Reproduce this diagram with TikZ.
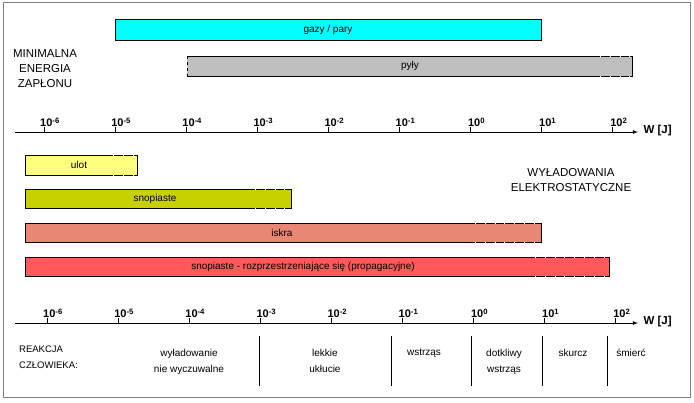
\documentclass[tikz,border=0pt]{standalone}
\usepackage{fontspec}
\setmainfont{Liberation Sans}
\begin{document}
\begin{tikzpicture}[x=1pt,y=-1pt,
  bar/.style={draw=black,line width=0.8pt},
  unc/.style={draw=white,line width=0.9pt,dash pattern=on 0.8pt off 9pt},
  lbl/.style={font=\fontsize{10}{12}\selectfont,inner sep=0pt},
  txt/.style={font=\fontsize{11.5}{15}\selectfont,align=center,inner sep=0pt},
  tick/.style={font=\bfseries\fontsize{11}{12}\selectfont,inner sep=0pt,anchor=base},
  axis/.style={line width=0.8pt,-latex}]
\definecolor{cy}{RGB}{0,255,255}
\useasboundingbox (0,0) rectangle (694,403);
\draw[gray,line width=1pt] (3,3) rectangle (690,398);
% top bars
\draw[bar,fill=cy] (115,19) rectangle (541,40);
\node[lbl] (gazy) at (328,29.5) {gazy / pary};
\fill[gray!50] (187,56) rectangle (632,76);
\draw[bar] (187,56) -- (632,56) -- (632,76) -- (187,76);
\draw[bar,dashed] (187,56) -- (187,76);
\draw[unc] (600,56) -- (632,56);
\draw[unc] (600,76) -- (632,76);
\node[lbl] (pyly) at (410,66) {pyły};
\node[txt] (mez) at (45,69) {MINIMALNA\\ENERGIA\\ZAPŁONU};
% top axis
\coordinate (a1s) at (15,132);
\coordinate (a1e) at (638,132);
\draw[axis] (a1s) -- (a1e);
\node[font=\bfseries\fontsize{11.5}{13}\selectfont,anchor=west] (w1) at (640,131) {W [J]};
\foreach \e [count=\i from 0] in {-6,-5,-4,-3,-2,-1,0,1,2}{
  \draw[line width=0.8pt] (44+71.1*\i,132) -- (44+71.1*\i,127);
  \node[tick] at (50+71.1*\i,127) {10\textsuperscript{\e}};
}
% discharge bars
\draw[bar,fill={rgb,255:red,255;green,255;blue,128}] (25,155) rectangle (137,175);
\draw[unc] (113,155) -- (137,155); \draw[unc] (113,175) -- (137,175);
\node[lbl] (ulot) at (79,165) {ulot};
\draw[bar,fill={rgb,255:red,200;green,208;blue,0}] (25,189) rectangle (291,208);
\draw[unc] (255,189) -- (291,189); \draw[unc] (255,208) -- (291,208);
\node[lbl] (snop) at (155,198.5) {snopiaste};
\draw[bar,fill={rgb,255:red,232;green,136;blue,116}] (25,223) rectangle (541,242);
\draw[unc] (475,223) -- (541,223); \draw[unc] (475,242) -- (541,242);
\node[lbl] (iskra) at (282,232.5) {iskra};
\draw[bar,fill={rgb,255:red,255;green,90;blue,90}] (25,257) rectangle (609,276);
\draw[unc] (535,257) -- (609,257); \draw[unc] (535,276) -- (609,276);
\node[lbl] (prop) at (303,266.5) {snopiaste - rozprzestrzeniające się (propagacyjne)};
\node[txt] (wyl) at (571,180) {WYŁADOWANIA\\ELEKTROSTATYCZNE};
% bottom axis
\coordinate (a2s) at (15,323);
\coordinate (a2e) at (638,323);
\draw[axis] (a2s) -- (a2e);
\node[font=\bfseries\fontsize{11.5}{13}\selectfont,anchor=west] (w2) at (640,322) {W [J]};
\foreach \e [count=\i from 0] in {-6,-5,-4,-3,-2,-1,0,1,2}{
  \draw[line width=0.8pt] (47+71.1*\i,323) -- (47+71.1*\i,318);
  \node[tick] at (53+71.1*\i,318) {10\textsuperscript{\e}};
}
\foreach \x in {259,391,471,542,607}{\draw[line width=0.6pt] (\x,336) -- (\x,386);}
\node[lbl,align=left,anchor=north west,font=\fontsize{9.5}{16}\selectfont] (reak) at (19,346) {REAKCJA\\CZŁOWIEKA:};
\node[lbl,align=center,anchor=north,font=\fontsize{10}{16}\selectfont] (c1) at (189,349) {wyładowanie\\nie wyczuwalne};
\node[lbl,align=center,anchor=north,font=\fontsize{10}{16}\selectfont] (c2) at (325,349) {lekkie\\ukłucie};
\node[lbl,anchor=north,font=\fontsize{10}{16}\selectfont] (c3) at (424,349) {wstrząs};
\node[lbl,align=center,anchor=north,font=\fontsize{10}{16}\selectfont] (c4) at (504,349) {dotkliwy\\wstrząs};
\node[lbl,anchor=north,font=\fontsize{10}{16}\selectfont] (c5) at (573,349) {skurcz};
\node[lbl,anchor=north,font=\fontsize{10}{16}\selectfont] (c6) at (631,349) {śmierć};
\end{tikzpicture}
\end{document}
